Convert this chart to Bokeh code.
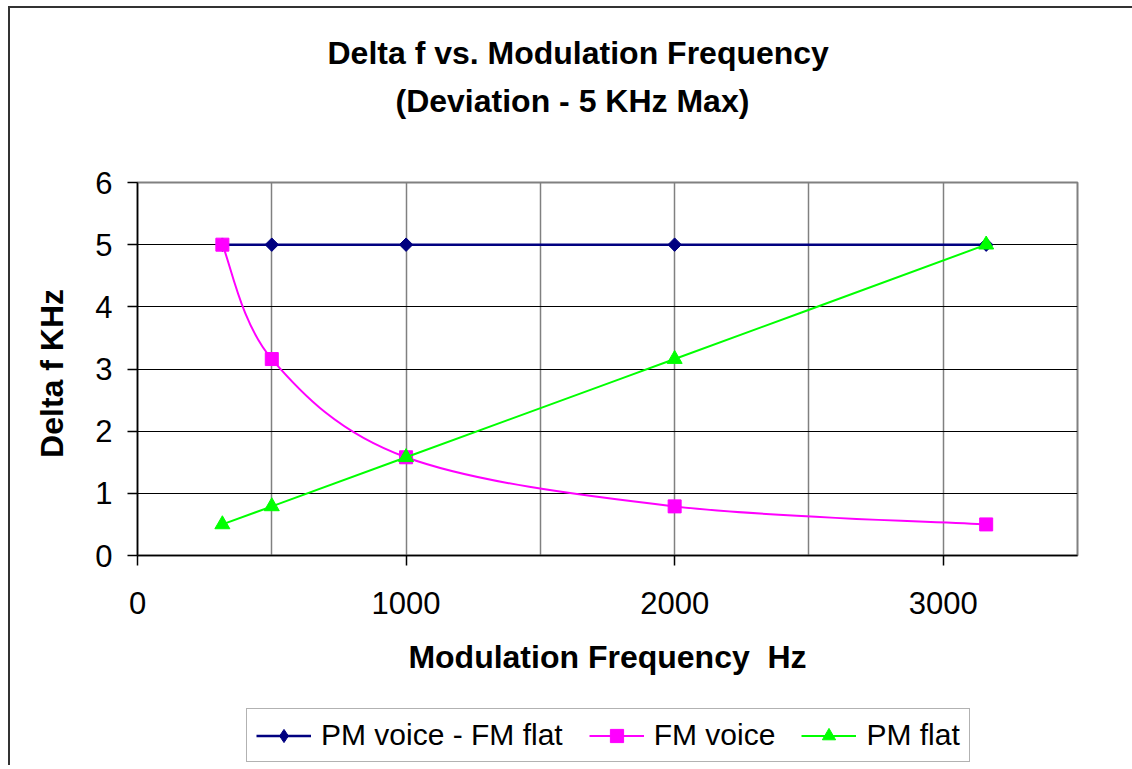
import numpy as np
from bokeh.plotting import figure
from bokeh.layouts import column
from bokeh.models import (Legend, LegendItem, SingleIntervalTicker, Title,
                          ColumnDataSource, FixedTicker, Range1d)
from bokeh.embed import file_html
from bokeh.resources import INLINE

# ---------------- data ----------------
title_lines = ["Delta f vs. Modulation Frequency", "(Deviation - 5 KHz Max)"]
x_label = "Modulation Frequency\u00a0 Hz"
y_label = "Delta f  KHz"
series_names = ["PM voice - FM flat", "FM voice", "PM flat"]
freq_hz = [316, 500, 1000, 2000, 3160]
pm_voice_fm_flat = [5.0, 5.0, 5.0, 5.0, 5.0]
fm_voice = [5.0, 3.16, 1.58, 0.79, 0.5]
pm_flat = [0.5, 0.79, 1.58, 3.16, 5.0]
x_ticks = [0, 1000, 2000, 3000]
y_ticks = [0, 1, 2, 3, 4, 5, 6]

FONT = "Liberation Sans"


def smooth_segments(xs, ys):
    """Excel-style smoothed line: cubic bezier segments through the points."""
    P = np.column_stack([xs, ys]).astype(float)
    n = len(P)
    cols = {k: [] for k in ("x0", "y0", "x1", "y1", "cx0", "cy0", "cx1", "cy1")}
    for i in range(n - 1):
        pm = P[i - 1] if i > 0 else P[i]
        p2 = P[i + 2] if i + 2 < n else P[i + 1]
        c1 = P[i] + (P[i + 1] - pm) / 6.0
        c2 = P[i + 1] - (p2 - P[i]) / 6.0
        cols["x0"].append(P[i][0]); cols["y0"].append(P[i][1])
        cols["x1"].append(P[i + 1][0]); cols["y1"].append(P[i + 1][1])
        cols["cx0"].append(c1[0]); cols["cy0"].append(c1[1])
        cols["cx1"].append(c2[0]); cols["cy1"].append(c2[1])
    return ColumnDataSource(cols)


W = 1132
FL, FT, FW, FH = 137, 182, 940, 373
MAIN_H = 705
fig = figure(frame_width=FW, frame_height=FH,
             output_backend="svg", toolbar_location=None,
             x_range=Range1d(0, 3500), y_range=Range1d(0, 6),
             min_border_left=FL, min_border_right=W - FL - FW,
             min_border_top=FT, min_border_bottom=MAIN_H - FT - FH)
# outer chart-area border (left and top edges only, as in the reference)
fig.styles = {
    "background-color": "white",
    "background-image": "linear-gradient(#333333,#333333), linear-gradient(#333333,#333333)",
    "background-size": "2px 100%, 100% 2px",
    "background-position": "8px 6px, 8px 6px",
    "background-repeat": "no-repeat",
}
fig.background_fill_color = "white"
fig.border_fill_alpha = 0.0
fig.outline_line_color = "#808080"
fig.outline_line_width = 2

# axes
for ax in (fig.xaxis[0], fig.yaxis[0]):
    ax.axis_line_color = "black"
    ax.axis_line_width = 1.5
    ax.major_tick_line_color = "black"
    ax.major_tick_line_width = 1.5
    ax.major_tick_out = 10
    ax.major_tick_in = 0
    ax.minor_tick_line_color = None
    ax.major_label_text_font = FONT
    ax.major_label_text_font_size = "31px"
    ax.major_label_text_color = "black"
    ax.axis_label_text_font = FONT
    ax.axis_label_text_font_size = "32px"
    ax.axis_label_text_font_style = "bold"
    ax.axis_label_text_color = "black"

fig.xaxis.ticker = FixedTicker(ticks=x_ticks)
fig.yaxis.ticker = FixedTicker(ticks=y_ticks)
fig.xaxis.axis_label = x_label
fig.yaxis.axis_label = y_label
fig.xaxis.major_label_standoff = 26
fig.xaxis.axis_label_standoff = 22
fig.yaxis.major_label_standoff = 15
fig.yaxis.axis_label_standoff = 22

fig.xgrid.ticker = SingleIntervalTicker(interval=500)
fig.xgrid.grid_line_color = "#808080"
fig.xgrid.grid_line_width = 1.5
fig.ygrid.ticker = FixedTicker(ticks=y_ticks)
fig.ygrid.grid_line_color = "black"
fig.ygrid.grid_line_width = 1

# title (two lines) stacked above the frame; first added sits nearest the frame
title_kw = dict(align="left", text_font=FONT, text_font_style="bold",
                text_font_size="32px", text_color="black")
fig.add_layout(Title(text=" ", standoff=26, **title_kw), "above")
fig.add_layout(Title(text=title_lines[1], offset=258, standoff=0, **title_kw), "above")
fig.add_layout(Title(text=title_lines[0], offset=190, standoff=19, **title_kw), "above")

# legend strip (separate figure directly below the chart, so it is not clipped)
LEG_H = 60
leg_fig = figure(width=W, height=LEG_H, output_backend="svg", toolbar_location=None,
                 x_range=Range1d(0, 1), y_range=Range1d(0, 1),
                 x_axis_location=None, y_axis_location=None, min_border=0)
leg_fig.grid.visible = False
leg_fig.outline_line_color = None
leg_fig.background_fill_alpha = 0.0
leg_fig.border_fill_alpha = 0.0
leg_fig.styles = {
    "background-color": "white",
    "background-image": "linear-gradient(#333333,#333333)",
    "background-size": "2px 100%",
    "background-position": "8px 0px",
    "background-repeat": "no-repeat",
}

# series
styles = [
    dict(color="#000080", marker="square", size=9.5, angle=np.pi / 4, legend_marker="diamond", lw=2.5),
    dict(color="#FF00FF", marker="square", size=13, angle=0.0, legend_marker="square", lw=2),
    dict(color="#00FF00", marker="triangle", size=15, angle=0.0, legend_marker="triangle", lw=2),
]
values = [pm_voice_fm_flat, fm_voice, pm_flat]
items = []
for name, vals, st in zip(series_names, values, styles):
    src = smooth_segments(freq_hz, vals)
    fig.bezier(x0="x0", y0="y0", x1="x1", y1="y1", cx0="cx0", cy0="cy0",
               cx1="cx1", cy1="cy1", source=src, line_color=st["color"], line_width=st["lw"])
    fig.scatter(x=freq_hz, y=vals, marker=st["marker"], size=st["size"],
                angle=st["angle"], fill_color=st["color"], line_color=st["color"],
                line_width=1)
    # hidden renderers used only to draw the legend swatches
    leg_line = leg_fig.line(x=freq_hz, y=vals, line_color=st["color"], line_width=st["lw"],
                            visible=False)
    leg_mark = leg_fig.scatter(x=freq_hz, y=vals, marker=st["legend_marker"], size=st["size"],
                               fill_color=st["color"], line_color=st["color"], visible=False)
    items.append(LegendItem(label=name, renderers=[leg_line, leg_mark]))

# the column aligns this strip's frame with the chart frame (x = 137 px on the page)
legend = Legend(items=items, orientation="horizontal", location=(109, 3),
                label_text_font=FONT, label_text_font_size="30px",
                label_text_color="black", glyph_width=55, glyph_height=33,
                label_standoff=10, spacing=26, padding=9, margin=0,
                inactive_fill_alpha=0.0,
                border_line_color="#666666", border_line_width=1.5,
                background_fill_color="white", background_fill_alpha=1.0)
leg_fig.add_layout(legend, "center")

p = column(fig, leg_fig, spacing=0)

open("out.html", "w").write(file_html(p, INLINE))
